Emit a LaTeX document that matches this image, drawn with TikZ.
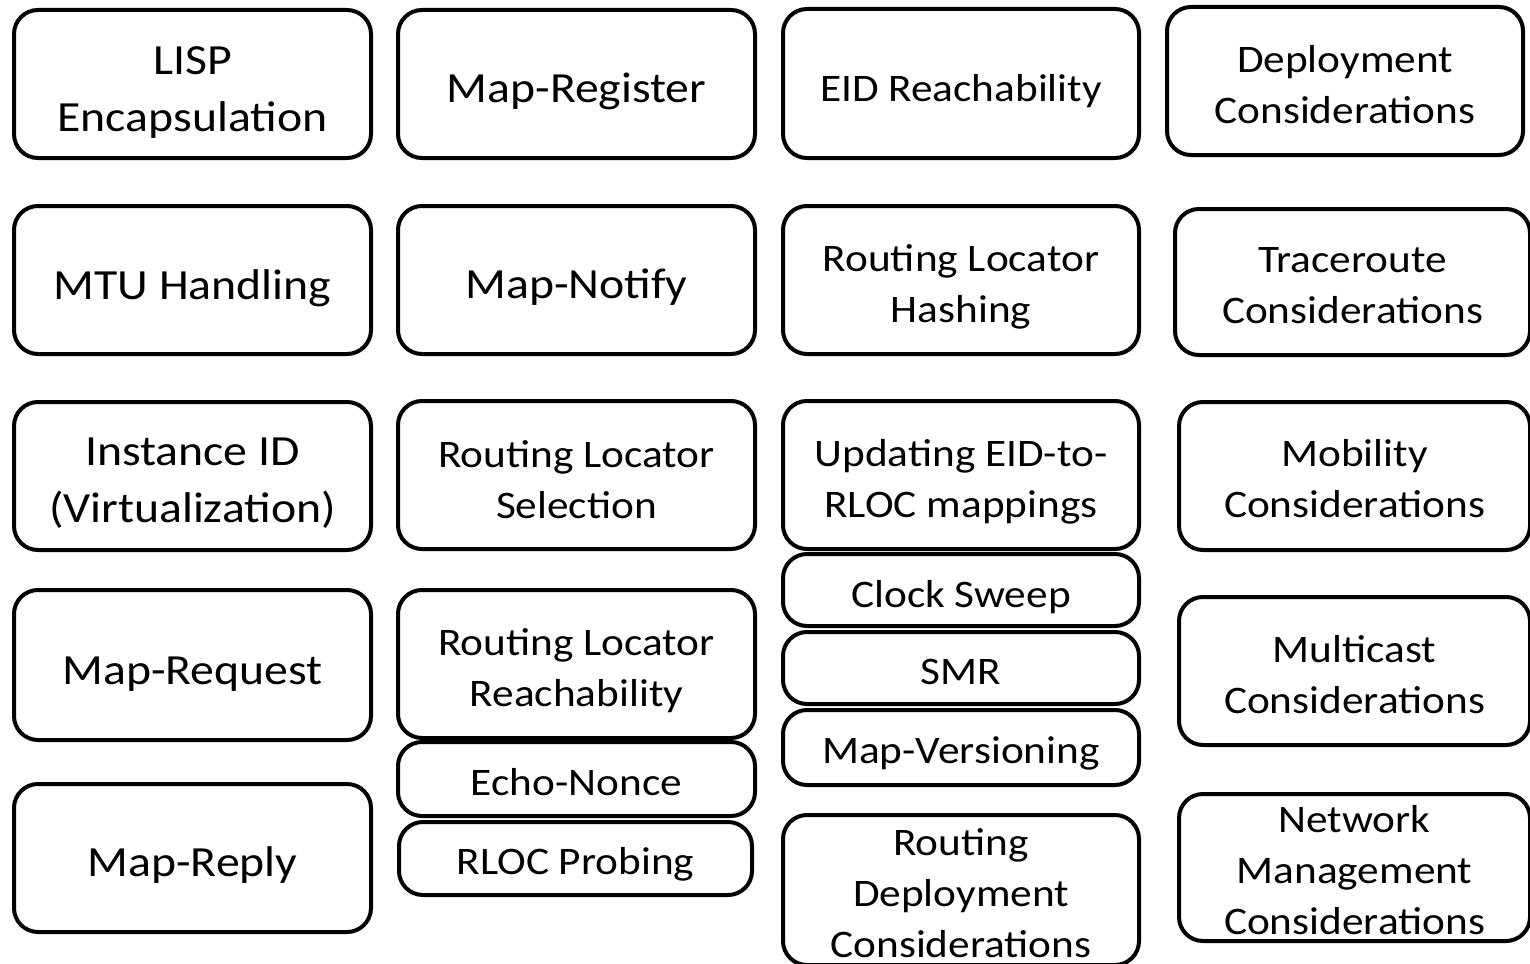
\documentclass[tikz,border=0pt]{standalone}
\usepackage{fontspec}
\setmainfont{Carlito}[FakeStretch=1.11]
\tikzset{
  x=1pt, y=-1pt,
  box/.style={draw=black, line width=4pt, rounded corners=24pt, inner sep=0pt, fill=white},
  lbl/.style={align=center, inner sep=0pt},
  big/.style={font=\fontsize{43}{56.5}\selectfont},
  med/.style={font=\fontsize{39}{51}\selectfont},
}
% #1 font style, #2 name, #3 centre, #4 width, #5 height, #6 text, #7 text shift down
\newcommand{\bx}[7]{%
  \node[box,minimum width=#4pt,minimum height=#5pt] (#2) at (#3) {};
  \node[lbl,#1,yshift=-#7pt] (#2-t) at (#2.center) {#6};}
\begin{document}
\begin{tikzpicture}
\useasboundingbox (0,0) rectangle (1530,963);
% column 1
\bx{big}{lisp}{192.5,84}{357}{148}{LISP\\Encapsulation}{8.5}
\bx{big}{mtu}{192.5,280}{357}{148}{MTU Handling}{8}
\bx{big}{inst}{192.5,476}{357}{148}{Instance ID\\(Virtualization)}{7}
\bx{big}{mreq}{192.5,665}{357}{150}{Map-Request}{9}
\bx{big}{mrep}{192.5,858}{357}{148}{Map-Reply}{7}
% column 2
\bx{big}{mreg}{576.5,84}{357}{148}{Map-Register}{7}
\bx{big}{mnot}{576.5,280}{357}{148}{Map-Notify}{7}
\bx{med}{rls}{576.5,475}{357}{148}{Routing Locator\\Selection}{4.5}
\bx{med}{rlr}{576.5,664}{357}{148}{Routing Locator\\Reachability}{7}
\bx{med}{echo}{576.5,779}{357}{74}{Echo-Nonce}{3}
\bx{med}{rloc}{575.5,858.5}{353}{73}{RLOC Probing}{6}
% column 3
\bx{med}{eid}{961,83.5}{356}{149}{EID Reachability}{8}
\bx{med}{rlh}{961,280}{356}{148}{Routing Locator\\Hashing}{7}
\bx{med}{upd}{961,475}{356}{148}{Updating EID-to-\\RLOC mappings}{7}
\bx{med}{clk}{961,590}{356}{72}{Clock Sweep}{7}
\bx{med}{smr}{961,668}{356}{72}{SMR}{4}
\bx{med}{mver}{961,747.5}{356}{75}{Map-Versioning}{6}
\bx{med}{rdep}{961,890}{356}{150}{Routing\\Deployment\\Considerations}{3}
% column 4
\bx{med}{dep}{1345,81}{356}{148}{Deployment\\Considerations}{4}
\bx{med}{trace}{1352.5,282}{355}{146}{Traceroute\\Considerations}{4}
\bx{med}{mob}{1354.5,476}{351}{148}{Mobility\\Considerations}{3}
\bx{med}{mcast}{1354.5,671}{351}{148}{Multicast\\Considerations}{4}
\bx{med}{nm}{1354.5,867.5}{351}{147}{Network\\Management\\Considerations}{3}
\end{tikzpicture}
\end{document}
